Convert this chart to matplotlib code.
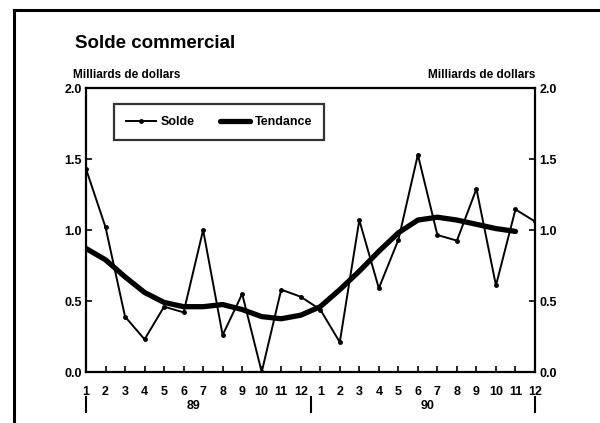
import matplotlib
matplotlib.use("Agg")
import matplotlib.pyplot as plt
from matplotlib.lines import Line2D

plt.rcParams['font.family'] = ['Liberation Sans', 'DejaVu Sans']
plt.rcParams['font.weight'] = 'bold'

months = list(range(1, 25))
month_labels = [str(m) for m in range(1, 13)] * 2
years = ["89", "90"]
solde = [1.43, 1.02, 0.39, 0.23, 0.46, 0.42, 1.00, 0.26, 0.55, 0.00, 0.58, 0.53,
         0.44, 0.21, 1.07, 0.59, 0.93, 1.53, 0.965, 0.925, 1.29, 0.61, 1.145, 1.06]
tendance = [0.87, 0.79, 0.67, 0.56, 0.49, 0.46, 0.46, 0.475, 0.44, 0.39, 0.375, 0.40,
            0.46, 0.58, 0.71, 0.85, 0.98, 1.07, 1.09, 1.07, 1.04, 1.01, 0.99]
yticks = [0.0, 0.5, 1.0, 1.5, 2.0]

W, H = 600, 423
fig = plt.figure(figsize=(6, 4.23), dpi=100)

# axes placement in pixels
left, right, top, bottom = 86, 535, 88, 372
ax = fig.add_axes([left / W, 1 - bottom / H, (right - left) / W, (bottom - top) / H])

ax.plot(months, solde, color='black', lw=1.4, marker='o', ms=2.5, label='Solde')
ax.plot(months[:len(tendance)], tendance, color='black', lw=3.8,
        solid_capstyle='round', solid_joinstyle='round', label='Tendance')

ax.set_xlim(1, 24)
ax.set_ylim(0, 2.0)
ax.set_yticks(yticks)
ax.set_yticklabels([f"{v:.1f}" for v in yticks])
ax.set_xticks(months)
ax.set_xticklabels(month_labels)
ax.tick_params(axis='both', direction='in', length=4, width=1.2, labelsize=9)
ax.tick_params(axis='x', pad=10)
ax.tick_params(axis='y', right=True, labelright=True, pad=3)
for s in ax.spines.values():
    s.set_linewidth(1.6)

leg = ax.legend(loc='upper left', bbox_to_anchor=(0.048, 0.965), ncol=2, frameon=True,
                fancybox=False, edgecolor='black', fontsize=9, handlelength=2.4,
                columnspacing=2.0, borderpad=0.95, handletextpad=0.4)
leg.get_frame().set_linewidth(1.6)

# year separators and labels
xpix = lambda m: left + (m - 1) * (right - left) / 23
for m in [1, 12.5, 24]:
    fig.add_artist(Line2D([xpix(m) / W] * 2, [1 - 397 / H, 1 - 412 / H], color='black', lw=1.5))
fig.text(xpix(6.5) / W, 1 - 406 / H, years[0], ha='center', va='center', fontsize=9, fontweight='bold')
fig.text(xpix(18.5) / W, 1 - 406 / H, years[1], ha='center', va='center', fontsize=9, fontweight='bold')

# titles
fig.text(75 / W, 1 - 44 / H, "Solde commercial", ha='left', va='center', fontsize=13.5, fontweight='bold')
fig.text(73 / W, 1 - 75 / H, "Milliards de dollars", ha='left', va='center', fontsize=8.5, fontweight='bold')
fig.text(535 / W, 1 - 75 / H, "Milliards de dollars", ha='right', va='center', fontsize=8.5, fontweight='bold')

# frame
fig.add_artist(Line2D([14 / W, 14 / W], [0, 1 - 10 / H], color='black', lw=2.2))
fig.add_artist(Line2D([14 / W, 1], [1 - 10 / H, 1 - 10 / H], color='black', lw=2.2))

fig.savefig("out.png", dpi=100)
